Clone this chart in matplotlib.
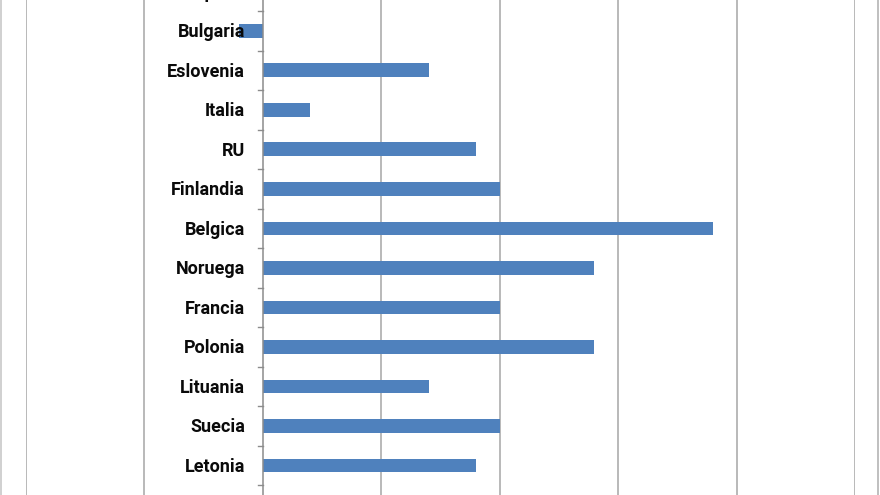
import matplotlib
matplotlib.use("Agg")
import matplotlib.pyplot as plt
from matplotlib.lines import Line2D
from matplotlib.transforms import ScaledTranslation

# categories top -> bottom (first one is cut off by the crop)
countries = ["España", "Bulgaria", "Eslovenia", "Italia", "RU", "Finlandia", "Belgica",
             "Noruega", "Francia", "Polonia", "Lituania", "Suecia", "Letonia"]
values = [-0.8, -0.2, 1.4, 0.4, 1.8, 2.0, 3.8, 2.8, 2.0, 2.8, 1.4, 2.0, 1.8]
grid_vals = [-2, -1, 1, 2, 3, 4, 5]

plt.rcParams['font.family'] = ['Roboto', 'DejaVu Sans']

fig = plt.figure(figsize=(8.8, 4.95), dpi=100)
fig.patch.set_facecolor("white")

# axes deliberately larger than the figure: the picture is a crop
ax = fig.add_axes([26/880, -0.0601, 829/880, 1.1172])
ypos = list(range(len(countries)))

ax.barh(ypos, values, height=0.354, color="#4F81BD", zorder=2)

for g in grid_vals:
    ax.axvline(g, color="#A6A6A6", lw=1.1, zorder=0)
ax.axvline(0, color="#8C8C8C", lw=1.1, zorder=3)

ax.set_xlim(-2, 5)
ax.set_ylim(13.5, -0.5)
ax.set_xticks([])
ax.set_yticks([])
for spine in ax.spines.values():
    spine.set_visible(False)

# category labels sit left of the zero axis, drawn over the bars
lab_tr = ax.transData + ScaledTranslation(-18/100, 0.5/100, fig.dpi_scale_trans)
for i, name in zip(ypos, countries):
    ax.text(0, i, name, transform=lab_tr, ha="right", va="center_baseline",
            fontsize=13, fontweight="bold", color="#0A0A0A", zorder=5)

# little tick marks left of the zero axis
for i in ypos:
    ax.plot([-0.045, 0], [i + 0.5, i + 0.5], color="#8C8C8C", lw=1, zorder=3)

# chart-area border lines at the picture edges
fig.add_artist(Line2D([1/880, 1/880], [0, 1], transform=fig.transFigure, color="#C8C8C8", lw=1.2))
fig.add_artist(Line2D([878/880, 878/880], [0, 1], transform=fig.transFigure, color="#B4B4B4", lw=1.2))

fig.savefig("out.png", dpi=100)
